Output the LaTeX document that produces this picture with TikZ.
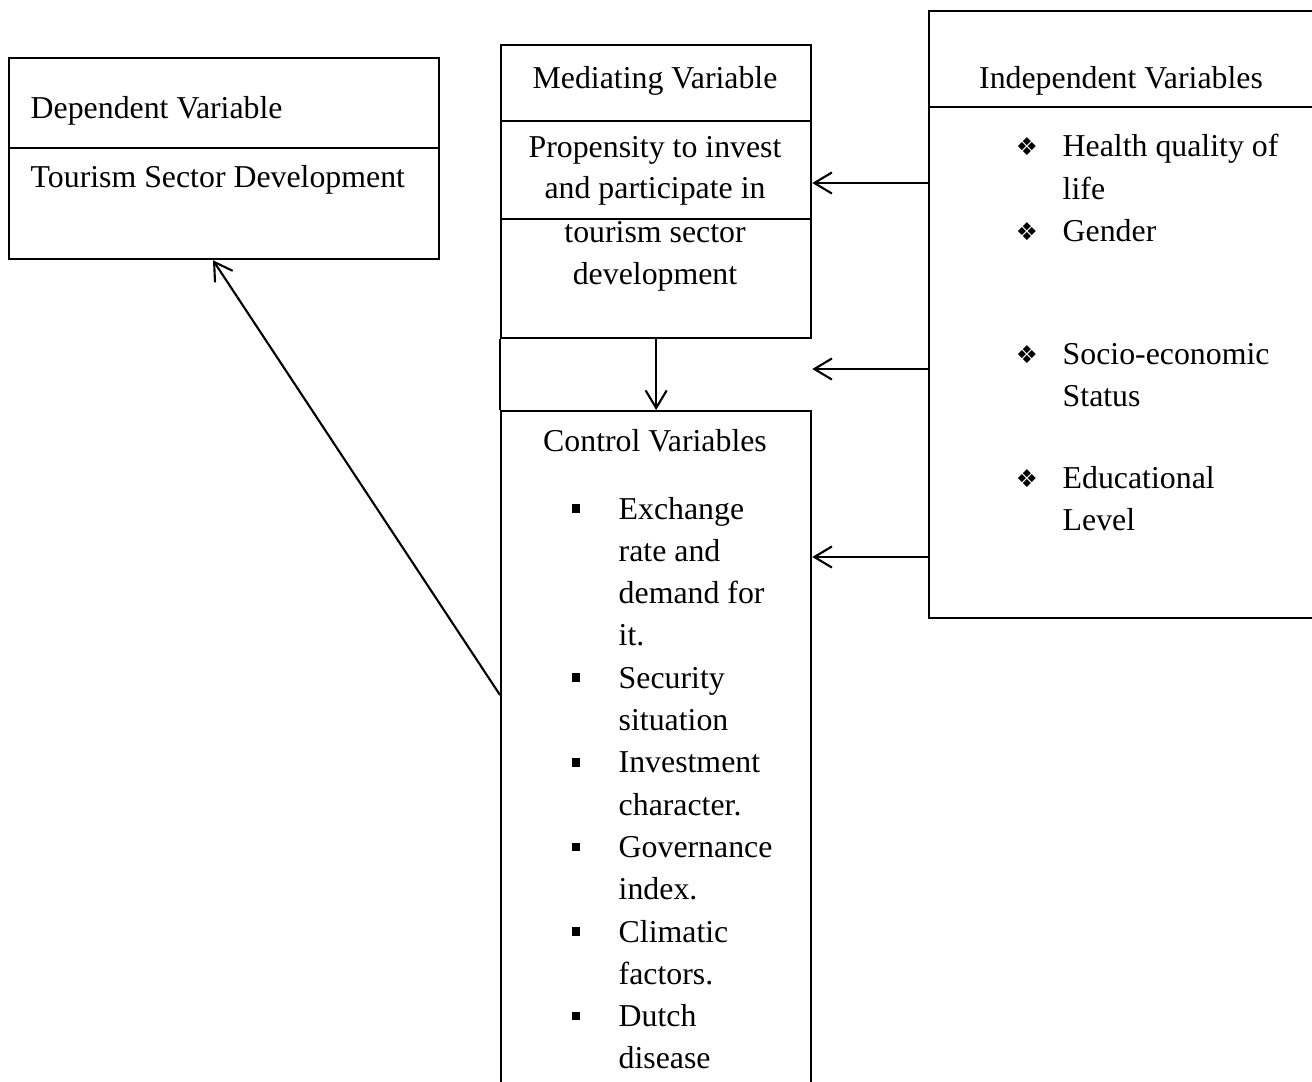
\documentclass[tikz,border=0pt]{standalone}
\usepackage{fontspec}
\setmainfont{Liberation Serif}
\newfontfamily\dingfont{DejaVu Sans}
\usetikzlibrary{arrows.meta}

\begin{document}
\begin{tikzpicture}[x=0.01cm, y=-0.01cm, font=\fontsize{9.05}{11}\selectfont]
    \tikzstyle{box} = [rectangle, draw, line width=0.6pt, inner sep=0pt, anchor=north west]
    \tikzstyle{divider} = [line width=0.4pt]
    \tikzstyle{txt} = [inner sep=0pt, anchor=base west]
    \tikzstyle{ctxt} = [inner sep=0pt, anchor=base]
    \tikzstyle{arr} = [line width=0.6pt, -{Straight Barb[length=5pt, width=6pt]}]
    \tikzstyle{sqb} = [rectangle, fill=black, inner sep=0pt, minimum size=0.085cm]
    \useasboundingbox (0,0) rectangle (1312,1081);
    \clip (0,0) rectangle (1312,1081);

    % boxes
    \node[box, minimum width=4.30cm, minimum height=2.01cm] (dep) at (8,57) {};
    \node[box, minimum width=3.10cm, minimum height=2.93cm] (med) at (500,44) {};
    \node[box, minimum width=3.10cm, minimum height=7.00cm] (ctrl) at (500,410) {};
    \node[box, minimum width=4.50cm, minimum height=6.07cm] (ind) at (928,10) {};
    \draw[line width=0.6pt] (med.south west) -- (ctrl.north west);

    \draw[divider] (dep.west |- 0,148) -- (dep.east |- 0,148);
    \draw[divider] (med.west |- 0,121) -- (med.east |- 0,121);
    \draw[divider] (med.west |- 0,219) -- (med.east |- 0,219);
    \draw[divider] (ind.west |- 0,107) -- (ind.east |- 0,107);

    % dependent
    \node[txt] (deph) at (30,118) {Dependent Variable};
    \node[txt] (dept) at (30,187) {Tourism Sector Development};

    % mediating
    \node[ctxt] (medh) at (655,88) {Mediating Variable};
    \foreach \txt/\yy [count=\i] in {Propensity to invest/157, and participate in/198, tourism sector/242, development/284}
        \node[ctxt] (med\i) at (655,\yy) {\txt};

    % control
    \node[ctxt] (ctrlh) at (655,451) {Control Variables};
    \foreach \txt [count=\i from 0] in {Exchange, rate and, demand for, it., Security, situation, Investment, character., Governance, index., Climatic, factors., Dutch, disease}
        \node[txt] (cv\i) at (618,519+42.3*\i) {\txt};
    \foreach \k in {0,4,6,8,10,12}
        \node[sqb] (cb\k) at (576,519+42.3*\k-10.5) {};

    % independent
    \node[ctxt] (indh) at (1121,88) {Independent Variables};
    \foreach \txt/\yy [count=\i] in {Health quality of/156.5, life/199, Gender/241, Socio-economic/364, Status/406, Educational/488, Level/530}
        \node[txt] (iv\i) at (1062,\yy) {\txt};
    \foreach \yy [count=\i] in {156.5, 241, 364, 488}
        \node[ctxt, font=\dingfont\fontsize{7}{7}\selectfont] (ib\i) at (1027,\yy-1) {❖};

    % arrows
    \draw[arr] (ind.west |- 0,183) -- (med.east |- 0,183);
    \draw[arr] (ind.west |- 0,369) -- (med.east |- 0,369);
    \draw[arr] (ind.west |- 0,557) -- (ctrl.east |- 0,557);
    \draw[arr] (med.south) -- (ctrl.north);
    \draw[arr] (ctrl.west |- 0,695) -- (dep.south -| 213,0);
\end{tikzpicture}
\end{document}
